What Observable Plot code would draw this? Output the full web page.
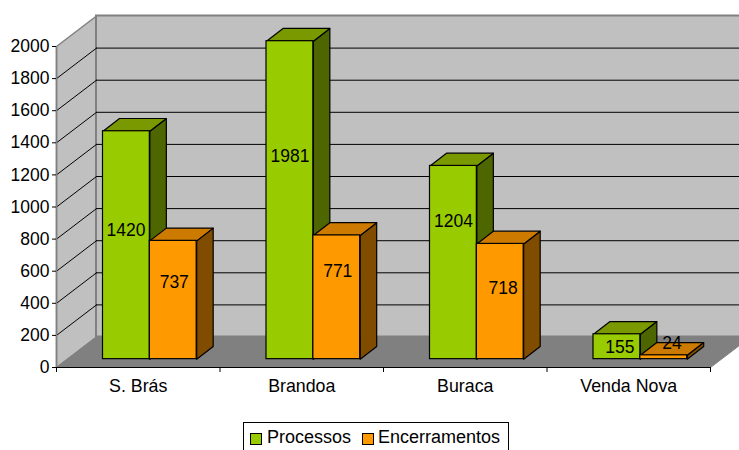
<!DOCTYPE html>
<html><head><meta charset="utf-8">
<script src="https://cdn.jsdelivr.net/npm/d3@7"></script>
<script src="https://cdn.jsdelivr.net/npm/@observablehq/plot@0.6"></script>
<style>
html,body{margin:0;padding:0;background:#fff;overflow:hidden;width:739px;height:450px}
#legend{position:absolute;left:243px;top:422px;width:266px;height:28px;border:1px solid #000;border-bottom:none;box-sizing:border-box;font:18px "Liberation Sans",Arial,sans-serif;color:#000}
#legend span{position:absolute;top:4px;line-height:20px;white-space:nowrap}
#legend i{position:absolute;top:10px;width:10px;height:10px;border:1px solid #000;box-sizing:content-box}
</style></head><body>
<div id="chart"></div>
<script>
const categories = ["S. Brás", "Brandoa", "Buraca", "Venda Nova"];
const processos = [1420, 1981, 1204, 155];
const encerramentos = [737, 771, 718, 24];
const yTicks = [0, 200, 400, 600, 800, 1000, 1200, 1400, 1600, 1800, 2000];
const seriesNames = ["Processos", "Encerramentos"];
// Where Excel's 3-D labels sit, read in axis units
const labelLevelP = [857, 1318, 913, 128];
const labelLevelE = [533, 601, 495, 153];
const labelShiftP = [-0.003, 0, 0, 0.018];
const labelShiftE = [0.006, 0.006, 0.018, 0.05];

// Projection of the 3-D box, in axis units
const wallDX = 0.2446, wallDY = 190;
const barDX = 0.1009, barDY = 79.4, floorDY = 52;
const barStart = 0.2844, barW = 0.2865;

const series = [
  {values: processos, at: barStart, levels: labelLevelP, shifts: labelShiftP, front: "#99cc00", top: "#7a9900", side: "#4d6600"},
  {values: encerramentos, at: barStart + barW, levels: labelLevelE, shifts: labelShiftE, front: "#ff9900", top: "#cc7a00", side: "#804d00"}
];
const face = (pts, fill, stroke = "#000", strokeWidth = 1.2) =>
  Plot.line(pts.map(([x, y]) => ({x, y})), {x: "x", y: "y", fill, stroke, strokeWidth});

const n = categories.length;
const inner = yTicks.filter(d => d > 0 && d < 2000);
const marks = [
  // left wall
  face([[0,0],[wallDX,wallDY],[wallDX,2000+wallDY],[0,2000],[0,0]], "#c0c0c0", "#808080", 1.5),
  // back wall
  Plot.rect([0], {x1: wallDX, x2: n + wallDX, y1: wallDY, y2: 2000 + wallDY, fill: "#c0c0c0", stroke: "#808080", strokeWidth: 2}),
  // floor
  face([[0,0],[wallDX,wallDY],[n+wallDX,wallDY],[n,0],[0,0]], "#808080", "#808080", 1),
  // grid
  Plot.ruleY(inner, {y: d => d + wallDY, x1: wallDX, x2: n + wallDX, stroke: "#000", strokeWidth: 1}),
  ...inner.map(d => face([[0,d],[wallDX,d+wallDY]], "none", "#000", 1)),
  // axes lines
  Plot.ruleX([0], {y1: 0, y2: 2000, stroke: "#808080", strokeWidth: 1.5}),
  Plot.ruleY([0], {x1: 0, x2: n, stroke: "#000", strokeWidth: 1}),
  Plot.axisY({ticks: yTicks, tickSize: 4, tickPadding: 3, fontSize: 17.5, tickFormat: d => String(d), label: null}),
  Plot.axisX({ticks: d3.range(0, n + 1), tickSize: 5, tickFormat: () => "", label: null}),
  Plot.axisX({ticks: d3.range(0, n).map(i => i + 0.5), tickSize: 0, tickPadding: 12, fontSize: 17.8, tickFormat: d => categories[d - 0.5], label: null})
];
// bars, category by category, green behind orange
categories.forEach((c, i) => {
  series.forEach(s => {
    const x0 = i + s.at, x1 = x0 + barW, v = s.values[i] + floorDY, b = floorDY;
    marks.push(
      face([[x1,b],[x1+barDX,b+barDY],[x1+barDX,v+barDY],[x1,v],[x1,b]], s.side),
      face([[x0,v],[x0+barDX,v+barDY],[x1+barDX,v+barDY],[x1,v],[x0,v]], s.top),
      Plot.rect([s.values[i]], {x1: x0, x2: x1, y1: b, y2: d => d + floorDY, fill: s.front, stroke: "#000", strokeWidth: 1.2})
    );
  });
});
// value labels on top of all bars
series.forEach(s => {
  marks.push(Plot.text(s.values, {
    x: (d, i) => i + s.at + barW / 2 + s.shifts[i],
    y: (d, i) => s.levels[i],
    text: d => String(d), fill: "#000", fontSize: 17.5
  }));
});

const chart = Plot.plot({
  width: 739, height: 421,
  marginLeft: 56, marginRight: 29, marginTop: 46, marginBottom: 54,
  x: {type: "linear", domain: [0, n]},
  y: {type: "linear", domain: [0, 2000]},
  style: {fontFamily: '"Liberation Sans",Arial,sans-serif', fontSize: "17.5px", color: "#000", background: "#fff", overflow: "hidden"},
  marks
});
document.getElementById("chart").appendChild(chart);

const legend = document.createElement("div");
legend.id = "legend";
[[series[0].front, 6, 23], [series[1].front, 118, 134]].forEach(([col, sx, tx], k) => {
  const sw = document.createElement("i");
  sw.style.left = sx + "px"; sw.style.background = col; legend.appendChild(sw);
  const t = document.createElement("span");
  t.style.left = tx + "px"; t.textContent = seriesNames[k]; legend.appendChild(t);
});
document.body.appendChild(legend);
</script>
</body></html>
